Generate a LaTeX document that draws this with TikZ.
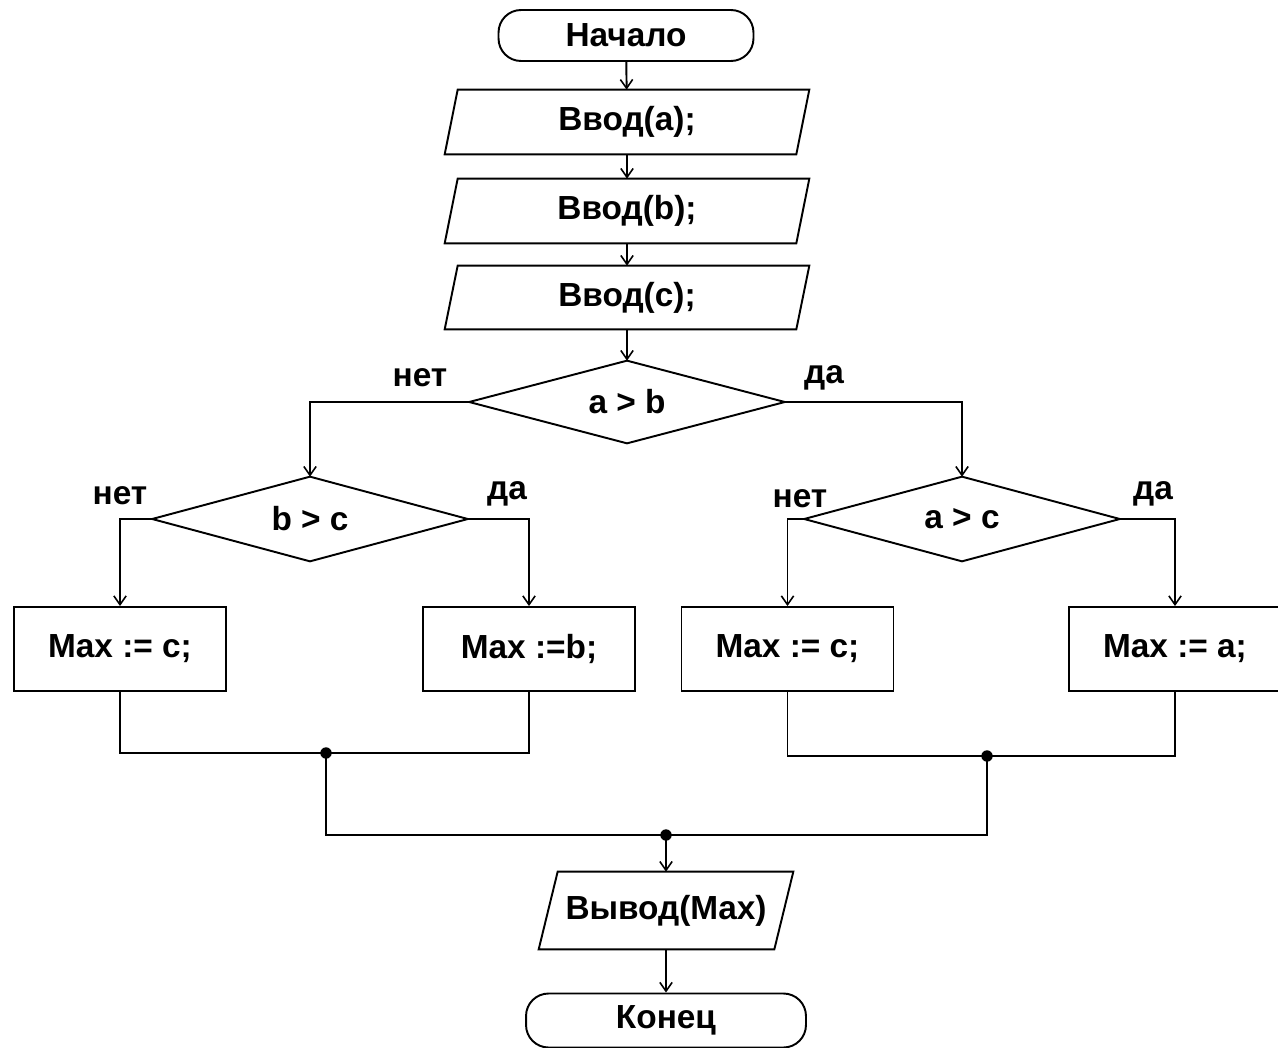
\documentclass[tikz,border=0pt]{standalone}
\usepackage{fontspec}
\setmainfont{Liberation Sans}
\usetikzlibrary{arrows.meta}
\tikzset{
  line/.style={line width=1.1pt,black},
  arr/.style={line,-{Straight Barb[length=5pt,width=7pt,line width=0.9pt]}},
  txt/.style={font=\fontsize{19}{21}\selectfont\bfseries},
  term/.style={txt,draw,line,rounded corners=0.45cm,inner sep=0pt},
  io/.style={txt,inner sep=0pt,minimum height=1.28cm,minimum width=7.02cm},
  dec/.style={txt,inner sep=0pt,minimum width=6.3cm},
  proc/.style={txt,draw,line,rectangle,inner sep=0pt,minimum width=4.24cm,minimum height=1.68cm},
  lbl/.style={txt},
  dot/.style={circle,fill=black,inner sep=0pt,minimum size=6.5pt}
}
\begin{document}
\begin{tikzpicture}[x=0.02cm,y=-0.02cm]
\useasboundingbox (0,0) rectangle (1278,1048);
\node[term,minimum width=5.1cm,minimum height=1.02cm] (start) at (626,35.5) {Начало};
\node[io] (in1) at (627,122) {Ввод(a);};
\node[io] (in2) at (627,211) {Ввод(b);};
\node[io,minimum height=1.26cm] (in3) at (627,297.5) {Ввод(c);};
\node[dec,minimum height=1.64cm] (d1) at (627,402) {a > b};
\node[dec,minimum height=1.68cm] (d2) at (310,519) {b > c};
\node[dec,minimum height=1.68cm] (d3) at (962,519) {a > c};
\node[proc] (b1) at (120,649) {Max := c;};
\node[proc] (b2) at (529,649) {Max :=b;};
\node[proc] (b3) at (787.5,649) {Max := c;};
\node[proc] (b4) at (1175,649) {Max := a;};
\node[io,minimum width=4.7cm,minimum height=1.54cm] (out) at (666,910.5) {Вывод(Max)};
\node[term,minimum width=5.6cm,minimum height=1.08cm] (end) at (666,1020.5) {Конец};
\foreach \n/\s in {in1/0.13cm,in2/0.13cm,in3/0.13cm,out/0.19cm}
  \draw[line] ([xshift=\s]\n.north west) -- ([xshift=\s]\n.north east)
    -- ([xshift=-\s]\n.south east) -- ([xshift=-\s]\n.south west) -- cycle;
\foreach \n in {d1,d2,d3}
  \draw[line] (\n.north) -- (\n.east) -- (\n.south) -- (\n.west) -- cycle;
% labels
\node[lbl] (l1) at (420,378) {нет};
\node[lbl] (l2) at (824,378) {да};
\node[lbl] (l3) at (120,496) {нет};
\node[lbl] (l4) at (507,494) {да};
\node[lbl] (l5) at (800,499) {нет};
\node[lbl] (l6) at (1153,494) {да};
% main chain
\draw[arr] (start) -- (in1);
\draw[arr] (in1) -- (in2);
\draw[arr] (in2) -- (in3);
\draw[arr] (in3) -- (d1);
\draw[arr] (d1.west) -| (d2.north);
\draw[arr] (d1.east) -| (d3.north);
\draw[arr] (d2.west) -| (b1.north);
\draw[arr] (d2.east) -| (b2.north);
\draw[arr] (d3.west) -| (b3.north);
\draw[arr] (d3.east) -| (b4.north);
% merges
\coordinate (m1) at (326,753);
\coordinate (m2) at (987,756);
\coordinate (m3) at (666,835);
\draw[line] (b1.south) |- (m1) -| (b2.south);
\draw[line] (b3.south) |- (m2) -| (b4.south);
\draw[line] (m1) |- (m3) -| (m2);
\node[dot] (dm1) at (m1) {};
\node[dot] (dm2) at (m2) {};
\node[dot] (dm3) at (m3) {};
\draw[arr] (m3) -- (out);
\draw[arr] (out) -- (end);
\end{tikzpicture}
\end{document}
